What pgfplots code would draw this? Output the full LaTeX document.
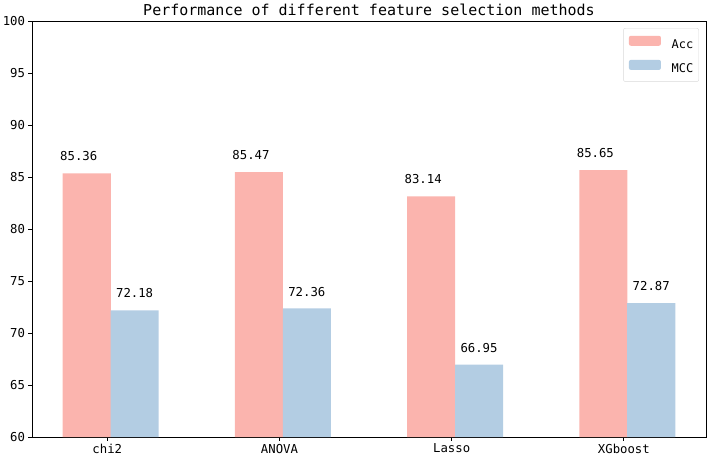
\documentclass[border=0pt]{standalone}
\usepackage{pgfplots}
\pgfplotsset{compat=1.18}
\usepackage{fontspec}
\setmainfont{DejaVu Sans Mono}
\definecolor{accpink}{HTML}{FBB4AE}
\definecolor{mccblue}{HTML}{B3CDE3}
\begin{document}
\begin{tikzpicture}
\begin{axis}[
    scale only axis,
    width=674bp, height=416bp,
    xmin=-0.437, xmax=3.477,
    ymin=60, ymax=100,
    ytick={60,65,...,100},
    xtick={0,1,2,3},
    xticklabels={chi2,ANOVA,Lasso,XGboost},
    tick align=outside,
    major tick length=3.5bp,
    xtick pos=bottom, ytick pos=left,
    axis line style={line width=0.8bp},
    every tick/.style={black, line width=0.8bp},
    ticklabel style={font=\fontsize{12.3bp}{14bp}\selectfont},
    /pgf/number format/assume math mode=true,
    title={Performance of different feature selection methods},
    title style={at={(0.5,1)}, anchor=base, yshift=0bp, inner sep=0pt,
        font=\fontsize{15bp}{18bp}\selectfont},
    ybar, bar width=0.279, bar shift=0pt,
    every node near coord/.append style={inner sep=0pt, yshift=12bp,
        font=\fontsize{12.3bp}{14bp}\selectfont, text=black},
    legend image code/.code={\fill[#1] (0bp,-1bp) rectangle (32bp,9bp);},
    legend cell align=left,
    legend style={at={(rel axis cs:0.9896,0.983)}, anchor=north east,
        draw=black!15, rounded corners=2bp,
        font=\fontsize{12bp}{14bp}\selectfont,
        inner xsep=5.5bp, inner ysep=7.5bp,
        nodes={inner sep=0pt},
        column sep=10.7bp, row sep=10bp},
]
    % Acc bars
    \addplot[fill=accpink, draw=none, nodes near coords,
        every node near coord/.append style={xshift=-8bp}]
        coordinates {(-0.119,85.36) (0.881,85.47) (1.881,83.14) (2.881,85.65)};
    \addlegendentry{Acc}
    % MCC bars
    \addplot[fill=mccblue, draw=none, nodes near coords]
        coordinates {(0.159,72.18) (1.159,72.36) (2.159,66.95) (3.159,72.87)};
    \addlegendentry{MCC}
\end{axis}
\pgfresetboundingbox
\path[use as bounding box] (-32bp,-22bp) rectangle (676bp,437bp);
\end{tikzpicture}
\end{document}
